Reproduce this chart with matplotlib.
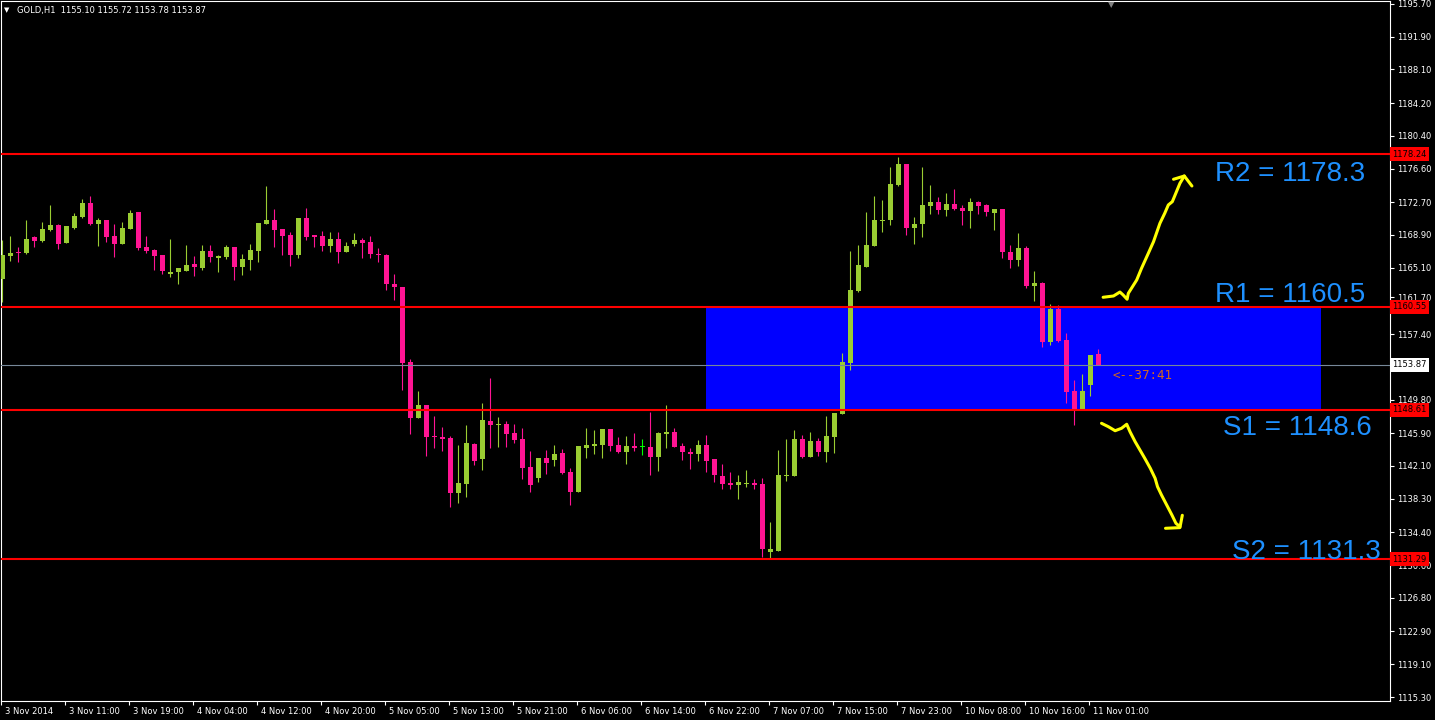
import matplotlib.pyplot as plt
from matplotlib.transforms import ScaledTranslation, blended_transform_factory
import numpy as np

# GOLD H1 bars
opens = [1163.79, 1166.50, 1166.85, 1166.77, 1168.67, 1168.20, 1169.48, 1170.06, 1168.01, 1169.75,
         1170.99, 1172.61, 1170.22, 1170.64, 1168.82, 1167.89, 1169.60, 1171.57, 1167.51, 1167.16,
         1166.58, 1164.41, 1164.65, 1164.76, 1165.54, 1165.07, 1167.04, 1166.23, 1166.35, 1167.51,
         1165.19, 1166.00, 1167.04, 1170.22, 1170.64, 1169.60, 1168.90, 1166.58, 1170.87, 1168.90,
         1168.78, 1167.62, 1168.44, 1166.93, 1167.86, 1168.32, 1168.09, 1166.70, 1166.58, 1163.22,
         1162.87, 1154.17, 1147.71, 1149.18, 1145.62, 1145.47, 1145.35, 1139.01, 1140.05, 1144.65,
         1142.95, 1147.32, 1146.86, 1146.98, 1145.93, 1145.23, 1141.99, 1140.75, 1143.03, 1142.80,
         1143.61, 1141.41, 1139.13, 1144.23, 1144.46, 1144.58, 1146.40, 1144.54, 1143.77, 1144.42,
         1144.31, 1144.31, 1143.18, 1145.85, 1146.05, 1144.42, 1143.73, 1143.49, 1144.54, 1142.91,
         1140.94, 1140.13, 1139.94, 1140.05, 1140.13, 1140.01, 1132.12, 1132.24, 1140.94, 1140.94,
         1145.23, 1143.15, 1145.00, 1143.73, 1145.47, 1148.13, 1154.09, 1162.40, 1165.19, 1167.62,
         1170.52, 1170.64, 1174.70, 1177.14, 1169.71, 1170.18, 1172.26, 1172.73, 1171.80, 1172.50,
         1172.03, 1171.68, 1172.73, 1172.38, 1171.45, 1171.92, 1166.93, 1166.00, 1167.39, 1162.98,
         1163.33, 1156.49, 1160.32, 1156.72, 1150.80, 1148.60, 1151.50, 1155.10]
highs = [1168.32, 1168.78, 1167.51, 1170.64, 1168.82, 1170.41, 1172.38, 1170.22, 1169.98, 1171.45,
         1173.08, 1173.42, 1170.87, 1170.64, 1170.22, 1170.41, 1171.84, 1171.57, 1168.78, 1167.28,
         1166.58, 1168.44, 1165.07, 1167.74, 1166.46, 1167.74, 1167.74, 1166.58, 1167.74, 1167.51,
         1166.70, 1167.86, 1170.33, 1174.62, 1171.92, 1169.60, 1169.25, 1170.87, 1172.03, 1168.90,
         1169.36, 1169.25, 1169.25, 1168.09, 1169.13, 1168.55, 1168.78, 1167.39, 1166.70, 1164.37,
         1162.87, 1154.52, 1150.80, 1149.18, 1147.90, 1146.63, 1145.58, 1144.54, 1146.86, 1144.77,
         1149.41, 1152.31, 1147.79, 1147.32, 1146.98, 1146.51, 1143.84, 1143.03, 1143.96, 1144.54,
         1144.07, 1141.87, 1144.42, 1146.51, 1146.28, 1146.40, 1146.40, 1145.47, 1145.58, 1145.93,
         1145.23, 1148.37, 1146.05, 1149.18, 1146.51, 1144.81, 1144.19, 1145.12, 1145.70, 1142.91,
         1142.34, 1141.41, 1141.06, 1141.64, 1140.60, 1140.71, 1135.61, 1143.96, 1145.23, 1146.28,
         1145.70, 1146.05, 1145.35, 1147.90, 1148.25, 1155.21, 1167.04, 1167.74, 1171.57, 1173.42,
         1172.96, 1176.79, 1177.95, 1177.14, 1170.99, 1176.79, 1174.70, 1173.31, 1173.77, 1174.24,
         1172.38, 1173.19, 1172.84, 1172.50, 1171.92, 1171.92, 1167.74, 1169.13, 1167.62, 1164.72,
         1163.45, 1160.89, 1160.78, 1157.53, 1152.08, 1152.77, 1154.98, 1155.72]
lows = [1161.17, 1165.88, 1165.77, 1166.70, 1167.55, 1168.09, 1169.40, 1167.28, 1167.97, 1169.56,
        1170.91, 1170.06, 1167.66, 1168.09, 1166.35, 1167.89, 1169.60, 1167.16, 1166.81, 1164.84,
        1164.37, 1164.03, 1163.25, 1164.76, 1164.14, 1164.84, 1165.77, 1164.61, 1166.12, 1163.68,
        1164.26, 1164.84, 1165.77, 1170.22, 1167.51, 1166.58, 1165.30, 1166.23, 1168.32, 1167.51,
        1167.04, 1166.93, 1165.65, 1166.93, 1167.62, 1166.23, 1166.23, 1165.77, 1162.52, 1161.36,
        1150.92, 1145.85, 1147.71, 1143.30, 1144.23, 1143.88, 1137.38, 1137.85, 1138.54, 1142.26,
        1141.68, 1144.23, 1144.35, 1144.35, 1144.81, 1140.63, 1139.13, 1140.28, 1141.21, 1142.14,
        1141.21, 1137.62, 1139.13, 1143.07, 1143.53, 1143.07, 1143.88, 1143.65, 1142.37, 1143.88,
        1143.42, 1141.10, 1141.56, 1144.23, 1144.35, 1142.80, 1141.75, 1142.72, 1141.44, 1140.28,
        1139.43, 1139.43, 1138.27, 1139.67, 1139.43, 1131.55, 1131.31, 1132.24, 1140.36, 1140.94,
        1143.03, 1143.15, 1143.26, 1142.57, 1143.61, 1148.13, 1153.24, 1162.29, 1165.19, 1167.62,
        1169.25, 1170.06, 1174.58, 1168.90, 1167.86, 1168.67, 1171.34, 1171.34, 1171.10, 1171.80,
        1170.06, 1169.71, 1171.34, 1171.10, 1169.48, 1166.23, 1165.07, 1165.30, 1162.75, 1161.24,
        1155.91, 1156.14, 1156.49, 1149.41, 1146.86, 1148.60, 1150.22, 1153.78]
closes = [1166.58, 1166.81, 1166.78, 1168.44, 1168.20, 1169.60, 1170.06, 1167.89, 1169.94, 1171.10,
          1172.61, 1170.22, 1170.64, 1168.71, 1167.89, 1169.71, 1171.49, 1167.39, 1167.04, 1166.46,
          1164.72, 1164.61, 1165.07, 1165.42, 1165.19, 1167.04, 1166.35, 1166.46, 1167.51, 1165.19,
          1166.12, 1167.16, 1170.33, 1170.64, 1169.48, 1168.78, 1166.58, 1170.87, 1168.67, 1168.67,
          1167.62, 1168.44, 1166.93, 1167.62, 1168.32, 1167.97, 1166.70, 1166.58, 1163.22, 1162.87,
          1154.09, 1147.71, 1149.18, 1145.51, 1145.51, 1145.27, 1139.01, 1140.13, 1144.77, 1142.72,
          1147.44, 1146.90, 1146.98, 1145.85, 1145.16, 1141.91, 1139.94, 1143.03, 1142.49, 1143.49,
          1141.33, 1139.13, 1144.42, 1144.54, 1144.69, 1146.40, 1144.46, 1143.77, 1144.42, 1144.23,
          1144.31, 1143.18, 1145.93, 1146.05, 1144.35, 1143.73, 1143.53, 1144.54, 1142.72, 1141.10,
          1140.01, 1139.94, 1140.25, 1140.13, 1139.94, 1132.47, 1132.47, 1141.06, 1141.06, 1145.23,
          1143.15, 1145.00, 1143.73, 1145.58, 1148.25, 1154.17, 1162.52, 1165.42, 1167.74, 1170.64,
          1170.64, 1174.82, 1177.14, 1169.71, 1170.18, 1172.38, 1172.73, 1171.80, 1172.50, 1171.92,
          1171.68, 1172.73, 1172.26, 1171.57, 1171.92, 1166.93, 1166.00, 1167.39, 1162.98, 1163.33,
          1156.49, 1160.32, 1156.60, 1150.69, 1148.60, 1150.80, 1154.98, 1153.87]

time_labels = ['3 Nov 2014', '3 Nov 11:00', '3 Nov 19:00', '4 Nov 04:00', '4 Nov 12:00',
               '4 Nov 20:00', '5 Nov 05:00', '5 Nov 13:00', '5 Nov 21:00', '6 Nov 06:00',
               '6 Nov 14:00', '6 Nov 22:00', '7 Nov 07:00', '7 Nov 15:00', '7 Nov 23:00',
               '10 Nov 08:00', '10 Nov 16:00', '11 Nov 01:00']
price_ticks = [1195.70, 1191.90, 1188.10, 1184.20, 1180.40, 1176.60, 1172.70, 1168.90, 1165.10,
               1161.70, 1157.40, 1149.80, 1145.90, 1142.10, 1138.30, 1134.40, 1130.60, 1126.80,
               1122.90, 1119.10, 1115.30]

levels = [1178.24, 1160.55, 1148.61, 1131.29]
level_names = ['R2 = 1178.3', 'R1 = 1160.5', 'S1 = 1148.6', 'S2 = 1131.3']
last_price = 1153.87
header = 'GOLD,H1  1155.10 1155.72 1153.78 1153.87'
timer = '<--37:41'

# hand drawn arrows (bar index, price)
arrow_up = [(137.6, 1161.67), (138.9, 1161.82), (139.7, 1162.28), (140.1, 1161.94), (140.6, 1161.44),
            (140.75, 1162.13), (141.8, 1163.68), (142.4, 1165.03), (143.25, 1166.77), (143.9, 1168.12),
            (144.7, 1170.25), (145.3, 1171.41), (145.75, 1172.38), (146.25, 1172.76), (146.6, 1173.54),
            (147.2, 1174.89), (147.75, 1175.74)]
arrow_up_head = [(146.4, 1175.36), (147.75, 1175.74), (148.7, 1174.58)]
arrow_dn = [(137.4, 1147.05), (138.25, 1146.66), (139.1, 1146.19), (139.9, 1146.47), (140.55, 1146.94),
            (140.96, 1146.08), (141.6, 1144.92), (142.8, 1143.0), (143.5, 1141.83), (144.1, 1140.67),
            (144.4, 1139.70), (144.9, 1138.73), (145.55, 1137.57), (146.2, 1136.41), (146.7, 1135.45),
            (147.2, 1135.06)]
arrow_dn_head = [(145.4, 1134.87), (147.2, 1134.95), (147.5, 1136.38)]

o = np.array(opens)
h = np.array(highs)
l = np.array(lows)
c = np.array(closes)
x = np.arange(len(o))

fig = plt.figure(figsize=(14.35, 7.2), dpi=100, facecolor='black')
ax = fig.add_axes([1 / 1435, 19 / 720, 1389 / 1435, 700 / 720])
ax.set_facecolor('black')

# blue zone between S1 and R1
ax.fill_between([87.96, 164.85], levels[2], levels[1], color='#0000FF', linewidth=0, zorder=1)

cols = np.where(c > o, '#9ACD32', np.where(c < o, '#FF1493', '#00FF00'))
ax.vlines(x, l, h, colors=cols, linewidth=0.8, zorder=3)
body_h = np.maximum(np.abs(c - o), 0.12)
ax.bar(x, body_h, width=0.625, bottom=np.minimum(o, c), color=cols, linewidth=0, zorder=4)

for lv in levels:
    ax.axhline(lv, color='#FF0000', linewidth=1.5, zorder=5)
ax.axhline(last_price, color='#778899', linewidth=0.8, zorder=5)

ax.text(138.8, 1152.65, timer, color='#D2691E', fontsize=9, family='DejaVu Sans Mono',
        ha='left', va='center', zorder=6)

label_pos = [(151.6, 1175.16), (151.6, 1161.12), (152.6, 1145.69), (153.7, 1131.31)]
for name, (bx, by) in zip(level_names, label_pos):
    ax.text(bx, by, name, color='#1E90FF', fontsize=20, family='Liberation Sans',
            ha='left', va='baseline', zorder=6)

for path in [arrow_up, arrow_up_head, arrow_dn, arrow_dn_head]:
    px, py = zip(*path)
    ax.plot(px, py, color='yellow', linewidth=2.2, solid_capstyle='round',
            solid_joinstyle='round', zorder=6)

ax.set_xlim(-0.1625, 173.46)
ax.set_ylim(1114.836, 1196.04)

ax.yaxis.tick_right()
ax.set_yticks(price_ticks)
ax.set_yticklabels(['%.2f' % v for v in price_ticks])
ax.tick_params(axis='y', colors='white', labelsize=6, length=3, width=0.8, pad=2)

ax.set_xticks([8 * j - 0.16 for j in range(len(time_labels))])
ax.set_xticklabels(time_labels)
ax.tick_params(axis='x', colors='white', labelsize=6, length=3, width=0.8, pad=1)
shift = ScaledTranslation(0.04, 0, fig.dpi_scale_trans)
for lbl in ax.get_xticklabels():
    lbl.set_ha('left')
    lbl.set_transform(lbl.get_transform() + shift)

for sp in ax.spines.values():
    sp.set_color('white')
    sp.set_linewidth(0.8)

# price tags on the right scale
tr = blended_transform_factory(ax.transAxes, ax.transData)
for lv in levels:
    ax.text(1.0015, lv, '%.2f' % lv, transform=tr, color='black', fontsize=6, ha='left',
            va='center', clip_on=False, zorder=10,
            bbox=dict(facecolor='#FF0000', edgecolor='none', boxstyle='square,pad=0.3'))
ax.text(1.0015, last_price, '%.2f' % last_price, transform=tr, color='black', fontsize=6,
        ha='left', va='center', clip_on=False, zorder=10,
        bbox=dict(facecolor='white', edgecolor='none', boxstyle='square,pad=0.3'))

fig.text(4 / 1435, 1 - 10 / 720, '\u25bc', color='white', fontsize=5, va='center')
fig.text(17 / 1435, 1 - 10 / 720, header, color='white', fontsize=6, va='center')
fig.text(1111 / 1435, 1 - 5 / 720, '\u25bc', color='#808080', fontsize=6, ha='center', va='center')

fig.savefig('out.png', dpi=100, facecolor='black')
